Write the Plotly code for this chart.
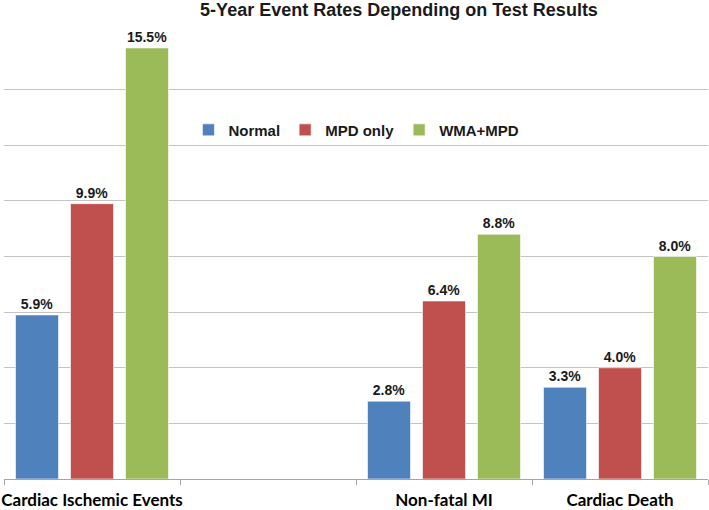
import plotly.graph_objects as go

categories = ["Cardiac Ischemic Events", " ", "Non-fatal MI", "Cardiac Death"]
series_names = ["Normal", "MPD only", "WMA+MPD"]
normal = [5.9, None, 2.8, 3.3]
mpd_only = [9.9, None, 6.4, 4.0]
wma_mpd = [15.5, None, 8.8, 8.0]
colors = ["#4F81BD", "#C0504D", "#9BBB59"]

fig = go.Figure()
for name, vals, col in zip(series_names, [normal, mpd_only, wma_mpd], colors):
    fig.add_trace(go.Bar(
        x=categories, y=vals, name=f"<b>{name}</b>",
        marker=dict(color=col, line=dict(color="rgba(255,255,255,0.6)", width=1)),
        text=[f"{v:.1f}%" if v is not None else "" for v in vals],
        textposition="outside", cliponaxis=False,
        textfont=dict(family="Liberation Sans, Arial", size=14, color="#1a1a1a"),
        texttemplate="<b>%{text}</b>",
    ))

fig.update_layout(
    width=709, height=510,
    margin=dict(l=4, r=1, t=34, b=31, autoexpand=False),
    paper_bgcolor="white", plot_bgcolor="white",
    barmode="group", bargap=0.0625, bargroupgap=0.218,
    title=dict(text="<b>5-Year Event Rates Depending on Test Results</b>",
               x=399/709, xanchor="center", y=0.981, yanchor="middle",
               font=dict(family="Liberation Sans, Arial", size=18, color="#1a1a1a")),
    legend=dict(orientation="h", x=0.262, xanchor="left", y=0.784, yanchor="middle",
                font=dict(family="Liberation Sans, Arial", size=15, color="#1a1a1a"),
                bgcolor="rgba(0,0,0,0)", itemwidth=30),
    showlegend=True,
)
fig.update_xaxes(
    type="category", showline=True, linecolor="#a6a6a6", linewidth=1,
    ticks="outside", tickson="boundaries", ticklen=5, tickcolor="#a6a6a6",
    tickfont=dict(family="Lato, Open Sans", size=17, color="#000000"),
    tickangle=0, ticklabelstandoff=6, automargin=False, showgrid=False,
    tickvals=categories, ticktext=[f"<b>{c}</b>" for c in categories],
)
fig.update_yaxes(
    range=[0, 16], dtick=2, showticklabels=False, showgrid=True,
    gridcolor="#c4c4c4", gridwidth=1, zeroline=False, showline=False,
    automargin=False,
)
fig.write_html("out.html", config={"displayModeBar": False},
               post_script="document.body.style.margin='0';document.body.style.overflow='hidden';")
